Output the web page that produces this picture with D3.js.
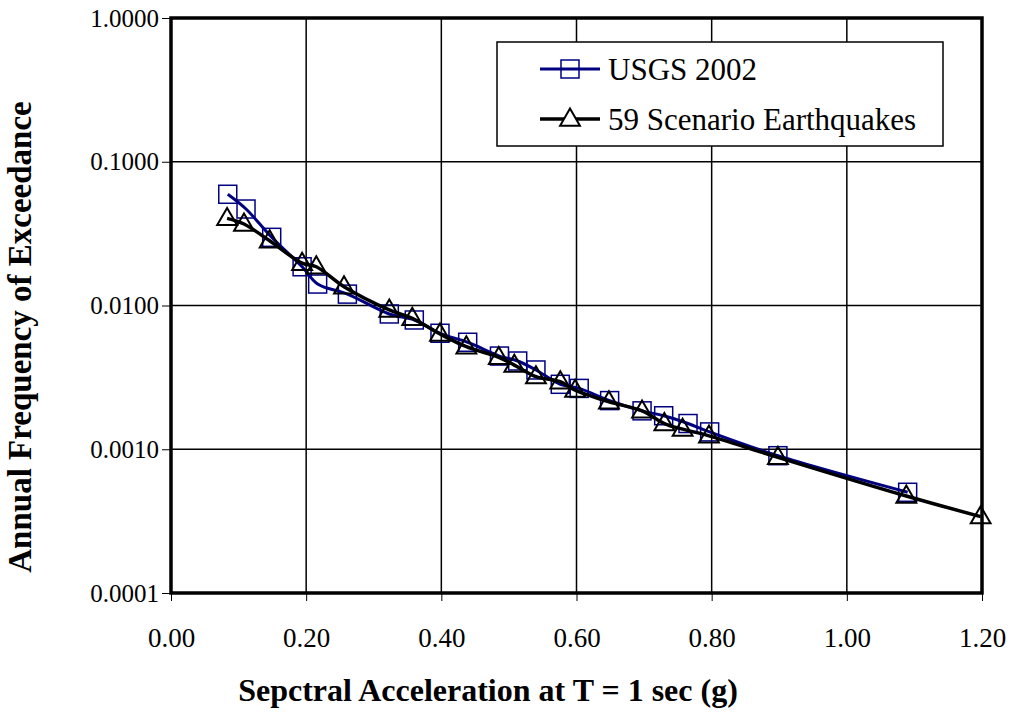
<!DOCTYPE html>
<html>
<head>
<meta charset="utf-8">
<script src="https://cdn.jsdelivr.net/npm/d3@7/dist/d3.min.js"></script>
<style>
    body { margin: 0; background: #fff; }
    svg { font-family: "Liberation Serif", "Times New Roman", serif; }
</style>
</head>
<body>
<svg id="chartSvg" width="1018" height="715"></svg>
<script>
// USGS 2002 hazard curve
var usgsX = [0.084, 0.111, 0.149, 0.194, 0.217, 0.261, 0.323, 0.360, 0.398, 0.439, 0.486,
    0.513, 0.540, 0.576, 0.604, 0.649, 0.697, 0.729, 0.765, 0.797, 0.898, 1.090];
var usgsY = [0.0594, 0.0469, 0.0298, 0.0186, 0.0141, 0.0120, 0.00873, 0.00793, 0.00641, 0.00555, 0.00445,
    0.00411, 0.00356, 0.00283, 0.00265, 0.00218, 0.00185, 0.00171, 0.00151, 0.00132, 0.000902, 0.000502];

// 59 scenario earthquakes
var scenX = [0.083, 0.108, 0.146, 0.194, 0.215, 0.256, 0.323, 0.357, 0.398, 0.437, 0.485, 0.508,
    0.540, 0.576, 0.598, 0.648, 0.697, 0.730, 0.757, 0.796, 0.898, 1.088, 1.198];
var scenY = [0.0404, 0.0369, 0.0282, 0.0197, 0.0186, 0.0135, 0.00931, 0.00815, 0.00634, 0.00517, 0.00436, 0.00385,
    0.00320, 0.00295, 0.00258, 0.00214, 0.00185, 0.00151, 0.00138, 0.00124, 0.000879, 0.000473, 0.000340];

var xTicks = [0, 0.2, 0.4, 0.6, 0.8, 1.0, 1.2];
var yTicks = [0.0001, 0.001, 0.01, 0.1, 1];
var seriesNames = ["USGS 2002", "59 Scenario Earthquakes"];

var svg = d3.select("#chartSvg");
var plotL = 171, plotR = 982, plotT = 18, plotB = 593;

var x = d3.scaleLinear().domain([0, 1.2]).range([plotL, plotR]);
var y = d3.scaleLog().domain([0.0001, 1]).range([plotB, plotT]);

// grid
svg.append("g").selectAll("line").data(xTicks.slice(1, -1)).enter().append("line")
    .attr("x1", function (d) { return x(d); })
    .attr("x2", function (d) { return x(d); })
    .attr("y1", plotT).attr("y2", plotB)
    .style("stroke", "#000").style("stroke-width", 1.5);
svg.append("g").selectAll("line").data(yTicks.slice(1, -1)).enter().append("line")
    .attr("x1", plotL).attr("x2", plotR)
    .attr("y1", function (d) { return y(d); })
    .attr("y2", function (d) { return y(d); })
    .style("stroke", "#000").style("stroke-width", 1.5);

// axes
var xAxis = d3.axisBottom(x).tickValues(xTicks).tickFormat(d3.format(".2f")).tickSize(8).tickPadding(27);
var yAxis = d3.axisLeft(y).tickValues(yTicks).tickFormat(d3.format(".4f")).tickSize(9).tickPadding(3);

var xg = svg.append("g").attr("transform", "translate(0," + plotB + ")").call(xAxis);
var yg = svg.append("g").attr("transform", "translate(" + plotL + ",0)").call(yAxis);
[xg, yg].forEach(function (g) {
    g.select(".domain").remove();
    g.selectAll(".tick line").style("stroke", "#000").style("stroke-width", 1);
    g.selectAll(".tick text")
        .style("font-family", "Liberation Serif")
        .style("fill", "#000");
});
xg.selectAll(".tick text").style("font-size", "27px");
yg.selectAll(".tick text").style("font-size", "25px");

// plot frame
svg.append("rect")
    .attr("x", plotL).attr("y", plotT)
    .attr("width", plotR - plotL).attr("height", plotB - plotT)
    .style("fill", "none").style("stroke", "#000").style("stroke-width", 3.5);

// series
var line = d3.line()
    .x(function (d) { return x(d[0]); })
    .y(function (d) { return y(d[1]); })
    .curve(d3.curveCatmullRom.alpha(0.5));

var usgsData = d3.zip(usgsX, usgsY);
var scenData = d3.zip(scenX, scenY);

svg.append("path").datum(usgsData)
    .attr("d", line)
    .style("fill", "none").style("stroke", "#000080").style("stroke-width", 3);

svg.append("g").selectAll("rect").data(usgsData).enter().append("rect")
    .attr("x", function (d) { return x(d[0]) - 9; })
    .attr("y", function (d) { return y(d[1]) - 9; })
    .attr("width", 18).attr("height", 18)
    .style("fill", "none").style("stroke", "#000080").style("stroke-width", 1.5);

svg.append("path").datum(scenData)
    .attr("d", line)
    .style("fill", "none").style("stroke", "#000").style("stroke-width", 3.5);

var tri = d3.symbol().type(d3.symbolTriangle).size(170);
svg.append("g").selectAll("path").data(scenData).enter().append("path")
    .attr("d", tri)
    .attr("transform", function (d) { return "translate(" + x(d[0]) + "," + (y(d[1]) + 1) + ")"; })
    .style("fill", "none").style("stroke", "#000").style("stroke-width", 2);

// legend
var lg = svg.append("g");
lg.append("rect")
    .attr("x", 497).attr("y", 42).attr("width", 446).attr("height", 104)
    .style("fill", "#fff").style("stroke", "#000").style("stroke-width", 1.5);

var legendRows = [69, 119];
lg.selectAll(".legLine").data(seriesNames).enter().append("line")
    .attr("x1", 540).attr("x2", 600)
    .attr("y1", function (d, i) { return legendRows[i]; })
    .attr("y2", function (d, i) { return legendRows[i]; })
    .style("stroke", function (d, i) { return i === 0 ? "#000080" : "#000"; })
    .style("stroke-width", function (d, i) { return i === 0 ? 3 : 3.5; });

lg.append("rect")
    .attr("x", 570 - 9).attr("y", legendRows[0] - 9).attr("width", 18).attr("height", 18)
    .style("fill", "none").style("stroke", "#000080").style("stroke-width", 1.5);
lg.append("path")
    .attr("d", tri)
    .attr("transform", "translate(570," + (legendRows[1] + 1) + ")")
    .style("fill", "#fff").style("stroke", "#000").style("stroke-width", 2);

lg.selectAll("text").data(seriesNames).enter().append("text")
    .attr("x", 608)
    .attr("y", function (d, i) { return legendRows[i] + 11; })
    .style("font-size", "31px")
    .text(function (d) { return d; });

// axis titles
svg.append("text")
    .attr("x", 488)
    .attr("y", 701)
    .attr("text-anchor", "middle")
    .style("font-size", "32px").style("font-weight", "bold")
    .text("Sepctral Acceleration at T = 1 sec (g)");

svg.append("text")
    .attr("transform", "translate(31," + 337 + ") rotate(-90)")
    .attr("text-anchor", "middle")
    .style("font-size", "33px").style("font-weight", "bold")
    .text("Annual Frequency of Exceedance");
</script>
</body>
</html>
